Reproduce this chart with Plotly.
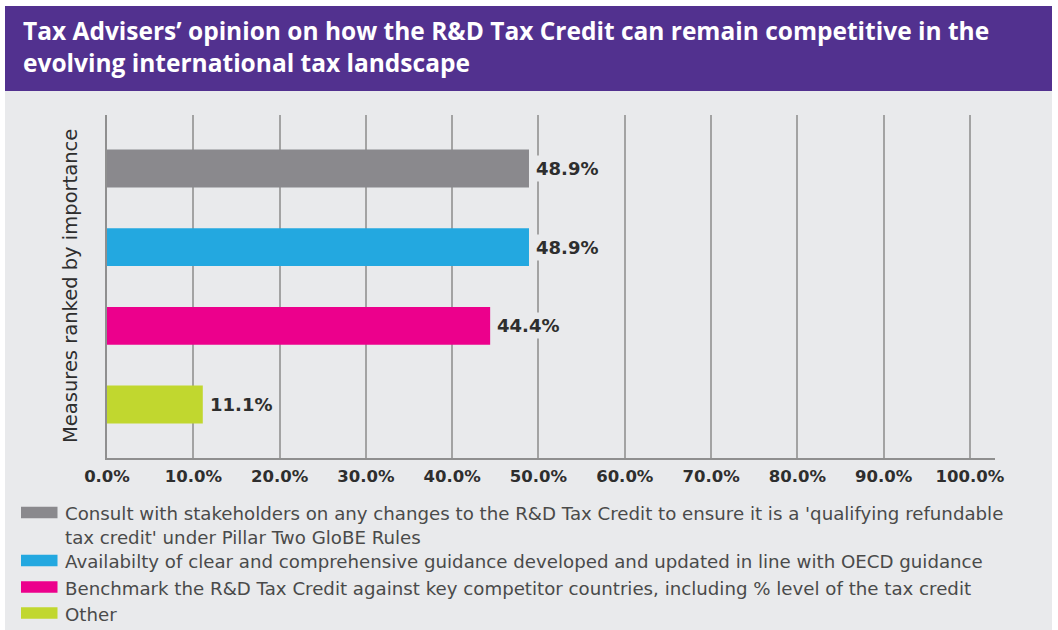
import plotly.graph_objects as go

# Survey measures (top to bottom) and share of tax advisers selecting each
measures = [
    "Consult with stakeholders on any changes to the R&D Tax Credit to ensure it is a 'qualifying refundable<br>"
    "tax credit' under Pillar Two GloBE Rules",
    "Availabilty of clear and comprehensive guidance developed and updated in line with OECD guidance",
    "Benchmark the R&D Tax Credit against key competitor countries, including % level of the tax credit",
    "Other",
]
shares = [0.489, 0.489, 0.444, 0.111]
bar_colors = ["#8A898D", "#23A8E0", "#EC008C", "#C1D72F"]
x_ticks = [i / 10 for i in range(11)]

title_text = ("Tax Advisers\u2019 opinion on how the R&D Tax Credit can remain competitive in the<br>"
              "evolving international tax landscape")
axis_title = "Measures ranked by importance"

W, H = 1058, 630
BG = "#E9EAEC"
PURPLE = "#52318F"
TEXT = "#2E2E2E"
LEGEND_TEXT = "#4A4A4A"
TITLE_FONT = "Open Sans"
BODY_FONT = "DejaVu Sans"
LEGEND_SIZE = 18.2


def px(x):
    return x / W


def py(y):
    return 1 - y / H


fig = go.Figure()
for i, (name, val, col) in enumerate(zip(measures, shares, bar_colors)):
    fig.add_trace(go.Bar(
        x=[val], y=[i], orientation="h", name=name,
        marker=dict(color=col, line=dict(width=0)),
        width=0.48, showlegend=False, hoverinfo="skip",
    ))

shapes = [
    # purple header band and grey panel
    dict(type="rect", xref="paper", yref="paper", x0=px(5), x1=px(1052), y0=py(91), y1=py(6),
         fillcolor=PURPLE, line=dict(width=0), layer="below"),
    dict(type="rect", xref="paper", yref="paper", x0=px(5), x1=px(1052), y0=py(630), y1=py(91),
         fillcolor=BG, line=dict(width=0), layer="below"),
]

annotations = [
    dict(text=f"<b>{title_text}</b>", xref="paper", yref="paper", x=px(21), y=py(47),
         xanchor="left", yanchor="middle", align="left", showarrow=False,
         font=dict(family=TITLE_FONT, size=24.5, color="white")),
    dict(text=axis_title, xref="paper", yref="paper", x=px(71), y=py(286),
         xanchor="center", yanchor="middle", textangle=-90, showarrow=False,
         font=dict(family=BODY_FONT, size=19.5, color=TEXT)),
]

# value labels sit on a panel-coloured box so gridlines break behind them
for i, val in enumerate(shares):
    annotations.append(dict(
        text=f"{val:.1%}", x=val, y=i, xref="x", yref="y", xanchor="left", yanchor="middle",
        xshift=4, showarrow=False, bgcolor=BG, borderpad=2,
        font=dict(family=BODY_FONT, size=18, color=TEXT, weight="bold"),
    ))

# legend drawn as swatches plus text below the chart
legend_rows = [512.5, 560.5, 587, 613]
line_step = 1.3 * LEGEND_SIZE
for name, col, yc in zip(measures, bar_colors, legend_rows):
    shapes.append(dict(type="rect", xref="paper", yref="paper", x0=px(21), x1=px(57.5),
                       y0=py(yc + 5.8), y1=py(yc - 5.8), fillcolor=col, line=dict(width=0)))
    n_lines = name.count("<br>") + 1
    annotations.append(dict(
        text=name, xref="paper", yref="paper", x=px(63),
        y=py(yc + 1 + line_step * (n_lines - 1) / 2),
        xanchor="left", yanchor="middle", align="left", showarrow=False,
        font=dict(family=BODY_FONT, size=LEGEND_SIZE, color=LEGEND_TEXT)))

fig.update_layout(
    width=W, height=H, autosize=False,
    margin=dict(l=0, r=0, t=0, b=0, autoexpand=False),
    paper_bgcolor="white", plot_bgcolor=BG,
    showlegend=False,
    shapes=shapes, annotations=annotations,
    xaxis=dict(
        domain=[px(107), px(995)], range=[0, 1.029],
        tickvals=x_ticks, tickformat=".1%",
        tickfont=dict(family=BODY_FONT, size=16.5, color=TEXT, weight="bold"),
        showgrid=True, gridcolor="#A3A3A3", gridwidth=1.5,
        showline=True, linecolor="#8F8F8F", linewidth=2,
        zeroline=False, ticks="", ticklabelstandoff=2,
        automargin=False, fixedrange=True,
    ),
    yaxis=dict(
        domain=[py(458), py(115)], range=[3.68, -0.68],
        showticklabels=False, showgrid=False, zeroline=False,
        showline=True, linecolor="#8F8F8F", linewidth=2, ticks="",
        automargin=False, fixedrange=True,
    ),
)

fig.write_html("out.html")
